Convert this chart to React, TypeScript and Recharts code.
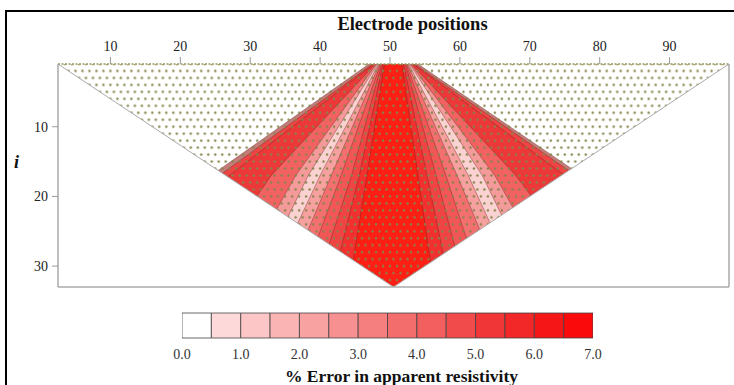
import React from 'react';
import { ComposedChart, Area, XAxis, YAxis, Label, BarChart, Bar } from 'recharts';

// pseudosection geometry: depth levels where the band edges are read
const depthLevels = [1, 17, 33];
const triangleLeft = [2.5, 26.5, 50.5];
const triangleRight = [98.5, 74.5, 50.5];

// contour bands, painted outside -> in (x of the left / right edge at each depth level)
const bandColors = ['#c47c78', '#ef4444', '#ec3838', '#f26262', '#f59a9a', '#fbd2d2',
  '#f6a0a0', '#f47070', '#f25656', '#f04444', '#f23030', '#fd1e14'];
const bandLeft = [
  [47.0, 24.4, 1.8],
  [47.5, 25.6, 3.7],
  [47.7, 27.0, 8.0],
  [47.9, 33.0, 22.0],
  [48.05, 36.5, 27.5],
  [48.2, 38.3, 30.5],
  [48.35, 40.0, 32.5],
  [48.5, 41.6, 34.8],
  [48.65, 43.0, 37.0],
  [48.8, 44.5, 39.3],
  [49.0, 45.6, 41.6],
  [49.2, 46.7, 44.1],
];
const bandRight = [
  [54.0, 77.4, 100.8],
  [53.5, 76.6, 99.7],
  [53.3, 75.0, 95.0],
  [53.1, 68.0, 80.0],
  [52.95, 65.0, 74.0],
  [52.8, 63.2, 71.0],
  [52.65, 61.2, 68.5],
  [52.5, 59.6, 66.3],
  [52.35, 58.0, 63.2],
  [52.2, 56.6, 60.8],
  [51.95, 55.3, 58.6],
  [51.7, 54.0, 56.3],
];

const electrodeTicks = [10, 20, 30, 40, 50, 60, 70, 80, 90];
const depthTicks = [10, 20, 30];

// colour scale
const classLimits = [0, 0.5, 1, 1.5, 2, 2.5, 3, 3.5, 4, 4.5, 5, 5.5, 6, 6.5, 7];
const classColors = ['#ffffff', '#fdd9d9', '#fcc6c6', '#fbb4b4', '#f8a2a2', '#f79090', '#f57f7f',
  '#f46d6d', '#f35e5e', '#f14b4b', '#f03636', '#f22727', '#f51717', '#fa0a0a'];
const errorTicks = [0, 1, 2, 3, 4, 5, 6, 7];

const SERIF = "'Liberation Serif', 'Times New Roman', serif";
const AXIS = '#aaaaaa';

const rows = depthLevels.map((i, k) => {
  const row: Record<string, any> = {
    i,
    maskL: [2.5, triangleLeft[k]],
    maskR: [triangleRight[k], 98.5],
    tri: [triangleLeft[k], triangleRight[k]],
  };
  bandColors.forEach((_, b) => {
    row[`b${b}`] = [bandLeft[b][k], bandRight[b][k]];
  });
  return row;
});

const scaleRow: Record<string, any> = { name: 'err' };
classColors.forEach((_, k) => {
  scaleRow[`c${k}`] = classLimits[k + 1] - classLimits[k];
});

export default function App() {
  return (
    <div style={{ position: 'absolute', left: 0, top: 0, width: 734, height: 385, background: '#fff', overflow: 'hidden', fontFamily: SERIF }}>
      <svg width={0} height={0} style={{ position: 'absolute' }}>
        <defs>
          <pattern id="dots" patternUnits="userSpaceOnUse" x={54.5} y={60.5} width={6.99} height={13.94}>
            <circle cx={3.495} cy={3.485} r={1.2} fill="#86844a" />
            <circle cx={0} cy={10.455} r={1.2} fill="#86844a" />
            <circle cx={6.99} cy={10.455} r={1.2} fill="#86844a" />
          </pattern>
        </defs>
      </svg>
      <div style={{ position: 'absolute', left: 5, top: 10, width: 740, height: 400, borderLeft: '2px solid #000', borderTop: '2px solid #000' }} />

      <div style={{ position: 'absolute', left: 0, top: 0 }}>
        <ComposedChart width={734} height={300} data={rows} layout="vertical" margin={{ top: 0, right: 0, bottom: 0, left: 0 }}>
          {bandColors.map((c, b) => (
            <Area
              key={b}
              xAxisId="top"
              yAxisId="left"
              dataKey={`b${b}`}
              type="linear"
              fill={c}
              fillOpacity={1}
              stroke="#6e2424"
              strokeOpacity={0.6}
              strokeWidth={0.7}
              isAnimationActive={false}
            />
          ))}
          <Area xAxisId="top" yAxisId="left" dataKey="maskL" type="linear" fill="#fff" fillOpacity={1} stroke="none" isAnimationActive={false} />
          <Area xAxisId="top" yAxisId="left" dataKey="maskR" type="linear" fill="#fff" fillOpacity={1} stroke="none" isAnimationActive={false} />
          <Area xAxisId="top" yAxisId="left" dataKey="tri" type="linear" fill="url(#dots)" fillOpacity={1} stroke="#a9a9a9" strokeWidth={1} isAnimationActive={false} />

          <XAxis
            xAxisId="top"
            orientation="top"
            type="number"
            domain={[2.5, 98.5]}
            allowDataOverflow
            ticks={electrodeTicks}
            height={64}
            tickSize={7}
            tickMargin={6}
            axisLine={{ stroke: '#9a9860', strokeDasharray: '2 1.5', strokeWidth: 1.5 }}
            tickLine={{ stroke: '#999' }}
            tick={{ fontSize: 14, fill: '#222', fontFamily: SERIF }}
          >
            <Label value="Electrode positions" position="insideTop" offset={17} dx={19} style={{ fontSize: 18.5, fontWeight: 'bold', fill: '#111', fontFamily: SERIF }} />
          </XAxis>
          <XAxis
            xAxisId="bottom"
            orientation="bottom"
            type="number"
            domain={[2.5, 98.5]}
            allowDataOverflow
            ticks={electrodeTicks}
            height={13}
            tickSize={7}
            tick={false}
            axisLine={{ stroke: AXIS, strokeWidth: 1.5 }}
            tickLine={{ stroke: '#999' }}
          />
          <YAxis
            yAxisId="left"
            dataKey="i"
            type="number"
            domain={[1, 33]}
            allowDataOverflow
            ticks={depthTicks}
            width={58}
            tickSize={6}
            tickMargin={4}
            axisLine={{ stroke: AXIS, strokeWidth: 1.5 }}
            tickLine={{ stroke: '#999' }}
            tick={{ fontSize: 14, fill: '#222', fontFamily: SERIF }}
          >
            <Label value="i" position="insideLeft" offset={14} dy={-14} style={{ fontSize: 18, fontWeight: 'bold', fontStyle: 'italic', fill: '#111', fontFamily: SERIF }} />
          </YAxis>
          <YAxis
            yAxisId="right"
            orientation="right"
            dataKey="i"
            type="number"
            domain={[1, 33]}
            allowDataOverflow
            ticks={depthTicks}
            width={5}
            tickSize={5}
            tick={false}
            axisLine={{ stroke: AXIS, strokeWidth: 1.5 }}
            tickLine={{ stroke: '#999' }}
          />
        </ComposedChart>
      </div>

      <div style={{ position: 'absolute', left: 0, top: 300 }}>
        <BarChart width={734} height={85} data={[scaleRow]} layout="vertical" barCategoryGap={0} margin={{ top: 13, right: 141, bottom: 0, left: 182 }}>
          <XAxis
            type="number"
            domain={[0, 7]}
            allowDataOverflow
            ticks={errorTicks}
            tickFormatter={(v: number) => v.toFixed(1)}
            height={47}
            axisLine={false}
            tickLine={false}
            tickMargin={5}
            tick={{ fontSize: 14, fill: '#333', fontFamily: SERIF }}
          >
            <Label value="% Error in apparent resistivity" position="insideBottom" offset={3} dx={14} style={{ fontSize: 17.5, fontWeight: 'bold', fill: '#111', fontFamily: SERIF }} />
          </XAxis>
          <YAxis type="category" dataKey="name" hide />
          {classColors.map((c, k) => (
            <Bar key={k} dataKey={`c${k}`} stackId="s" fill={c} stroke="#444" strokeWidth={0.8} isAnimationActive={false} />
          ))}
        </BarChart>
      </div>
    </div>
  );
}
